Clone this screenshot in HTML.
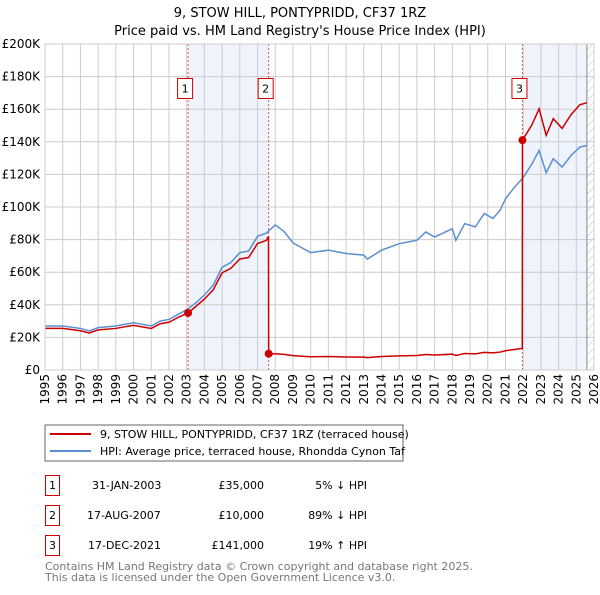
<!DOCTYPE html>
<html><head><meta charset="utf-8"><style>
body{margin:0;background:#fff;font-family:"Liberation Sans","DejaVu Sans",sans-serif;}
svg text{font-family:"DejaVu Sans","Liberation Sans",sans-serif;}
</style></head><body>
<svg id="c" width="600" height="590" xmlns="http://www.w3.org/2000/svg">
<defs><pattern id="hatch" width="6" height="6" patternUnits="userSpaceOnUse" patternTransform="rotate(45)"><line x1="0" y1="0" x2="0" y2="6" stroke="#bbb" stroke-width="1"/></pattern></defs>
<text x="300" y="17" text-anchor="middle" font-size="13">9, STOW HILL, PONTYPRIDD, CF37 1RZ</text>
<text x="300" y="35" text-anchor="middle" font-size="13">Price paid vs. HM Land Registry's House Price Index (HPI)</text>
<g id="plot"></g>
<rect x="45" y="425" width="358" height="36" fill="#fff" stroke="#666"/>
<line x1="50" y1="434" x2="91" y2="434" stroke="#cc0000" stroke-width="2"/>
<text x="100" y="438" font-size="11">9, STOW HILL, PONTYPRIDD, CF37 1RZ (terraced house)</text>
<line x1="50" y1="451" x2="91" y2="451" stroke="#5b8fd0" stroke-width="2"/>
<text x="100" y="455" font-size="11">HPI: Average price, terraced house, Rhondda Cynon Taf</text>
<g font-size="11">
<rect x="45.5" y="475.5" width="14" height="20" fill="none" stroke="#cc0000"/><text x="52.5" y="489" text-anchor="middle">1</text>
<text x="92" y="489">31-JAN-2003</text><text x="264" y="489" text-anchor="end">£35,000</text><text x="367" y="489" text-anchor="end">5% ↓ HPI</text>
<rect x="45.5" y="505.5" width="14" height="20" fill="none" stroke="#cc0000"/><text x="52.5" y="519" text-anchor="middle">2</text>
<text x="87" y="519">17-AUG-2007</text><text x="264" y="519" text-anchor="end">£10,000</text><text x="367" y="519" text-anchor="end">89% ↓ HPI</text>
<rect x="45.5" y="535.5" width="14" height="20" fill="none" stroke="#cc0000"/><text x="52.5" y="549" text-anchor="middle">3</text>
<text x="88" y="549">17-DEC-2021</text><text x="264" y="549" text-anchor="end">£141,000</text><text x="367" y="549" text-anchor="end">19% ↑ HPI</text>
</g>
<text x="45" y="570" font-size="11" fill="#777">Contains HM Land Registry data © Crown copyright and database right 2025.</text>
<text x="45" y="581" font-size="11" fill="#777">This data is licensed under the Open Government Licence v3.0.</text>
</svg>
<script>
const yTicks=[0,20,40,60,80,100,120,140,160,180,200];
const yTickLabels=["£0","£20K","£40K","£60K","£80K","£100K","£120K","£140K","£160K","£180K","£200K"];
const xYears=[1995,1996,1997,1998,1999,2000,2001,2002,2003,2004,2005,2006,2007,2008,2009,2010,2011,2012,2013,2014,2015,2016,2017,2018,2019,2020,2021,2022,2023,2024,2025,2026];
const hpiDates=[1995,1996,1997,1997.5,1998,1999,1999.5,2000,2001,2001.5,2002,2002.5,2003,2003.5,2004,2004.5,2005,2005.5,2006,2006.5,2007,2007.5,2008,2008.5,2009,2009.5,2010,2011,2012,2013,2013.2,2014,2015,2016,2016.5,2017,2018,2018.2,2018.7,2019.3,2019.8,2020.3,2020.7,2021,2021.5,2022,2022.5,2022.9,2023.3,2023.7,2024.2,2024.7,2025.2,2025.6];
const hpiValues=[27,27,25.5,24,26,27,28,29,27,30,31,34,37,41,46,52,63,66,72,73,82,84,89,85,78,75,72,73.5,71.5,70.5,68,73.5,77.5,79.6,84.7,81.6,86.7,79.6,89.8,87.8,96,93,98,105,112,118,126.5,134.7,121,129.6,124.5,131.6,136.7,137.8];
const priceDates=[1995,1996,1997,1997.5,1998,1999,1999.5,2000,2001,2001.5,2002,2002.5,2003.08,2003.5,2004,2004.5,2005,2005.5,2006,2006.5,2007,2007.5,2007.62,2007.63,2008,2008.5,2009,2009.5,2010,2011,2012,2013,2013.2,2014,2015,2016,2016.5,2017,2018,2018.2,2018.7,2019.3,2019.8,2020.3,2020.7,2021,2021.5,2021.95,2021.96,2022.5,2022.9,2023.3,2023.7,2024.2,2024.7,2025.2,2025.6];
const priceValues=[25.5,25.5,24.1,22.7,24.6,25.5,26.5,27.4,25.5,28.4,29.3,32.2,35,38.8,43.5,49.2,59.6,62.4,68.1,69,77.6,79.5,82,10,10,9.6,8.8,8.4,8.1,8.3,8.0,7.9,7.6,8.3,8.7,8.9,9.5,9.2,9.7,8.9,10.1,9.9,10.8,10.5,11,11.8,12.6,13.3,141,150.5,160.3,144,154.2,148.2,156.6,162.7,164];
const saleDates=[2003.08,2007.63,2021.96];
const saleValues=[35,10,141];
const saleLabels=["1","2","3"];
const dataEnd=2025.6;

const X0=45,X1=594,Y0=370,Y1=44;
const xs=t=>X0+(t-1995)/(2026-1995)*(X1-X0);
const ys=v=>Y0-v/200*(Y0-Y1);
const NS="http://www.w3.org/2000/svg";
const g=document.getElementById('plot');
function mk(tag,attrs,parent){const e=document.createElementNS(NS,tag);for(const k in attrs)e.setAttribute(k,attrs[k]);(parent||g).appendChild(e);return e;}

let r=mk('rect',{x:xs(saleDates[0]),y:Y1,width:xs(saleDates[1])-xs(saleDates[0]),height:Y0-Y1,fill:'#eef3fc'});


r=mk('rect',{x:xs(saleDates[2]),y:Y1,width:xs(dataEnd)-xs(saleDates[2]),height:Y0-Y1,fill:'#eef3fc'});


r=mk('rect',{x:xs(dataEnd),y:Y1,width:X1-xs(dataEnd),height:Y0-Y1,fill:'url(#hatch)'});



yTicks.forEach((v,i)=>{
  const l=mk('line',{x1:X0,x2:X1,y1:ys(v),y2:ys(v),stroke:'#ccc','stroke-width':1});
  
  
  const t=mk('text',{x:40,y:ys(v)+4,'text-anchor':'end','font-size':12});
  
  
  t.textContent=yTickLabels[i];
});
xYears.forEach(yr=>{
  const l=mk('line',{x1:xs(yr),x2:xs(yr),y1:Y1,y2:Y0,stroke:'#ccc','stroke-width':1});
  
  
  const t=mk('text',{x:0,y:0,'text-anchor':'end','font-size':12,transform:`translate(${xs(yr)+4},374) rotate(-90)`});
  
  
  t.textContent=yr;
});
const dl=mk('line',{x1:xs(dataEnd),x2:xs(dataEnd),y1:Y1,y2:Y0,stroke:'#888','stroke-width':1});



saleDates.forEach((d,i)=>{
  const l=mk('line',{x1:xs(d),x2:xs(d),y1:Y1,y2:Y0,stroke:'#e05050','stroke-width':1,'stroke-dasharray':'2,2'});
  
  
});

const hp=mk('polyline',{points:hpiDates.map((d,i)=>xs(d)+','+ys(hpiValues[i])).join(' '),fill:'none',stroke:'#5b8fd0','stroke-width':1.5});


const pp=mk('polyline',{points:priceDates.map((d,i)=>xs(d)+','+ys(priceValues[i])).join(' '),fill:'none',stroke:'#cc0000','stroke-width':1.5});



saleDates.forEach((d,i)=>{
  const c=mk('circle',{cx:xs(d),cy:ys(saleValues[i]),r:4,fill:'#cc0000'});
  
  
  const b=mk('rect',{x:xs(d)-10.5,y:78.5,width:15,height:20,fill:'#fff',stroke:'#cc0000'});
  
  
  const t=mk('text',{x:xs(d)-3,y:92.5,'text-anchor':'middle','font-size':11});
  
  
  t.textContent=saleLabels[i];
});
const ax=mk('rect',{x:X0,y:Y1,width:X1-X0,height:Y0-Y1,fill:'none',stroke:'#ccc'});


</script>
</body></html>
